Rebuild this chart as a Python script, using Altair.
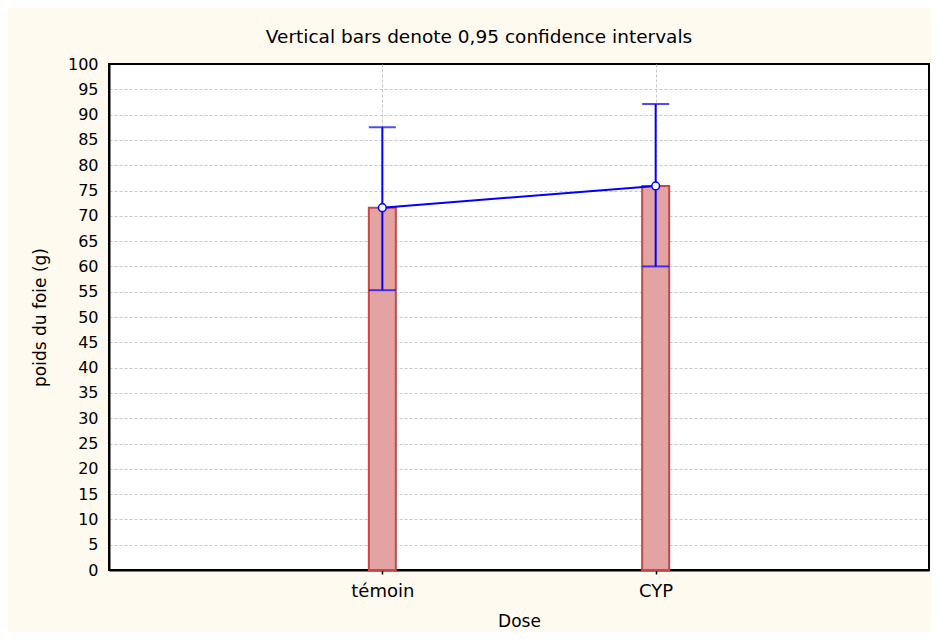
import altair as alt
import pandas as pd

doses = ["témoin", "CYP"]
means = [71.6, 75.9]
lower = [55.3, 60.0]
upper = [87.5, 92.1]
y_ticks = list(range(0, 101, 5))

df = pd.DataFrame({"Dose": doses, "mean": means, "lo": lower, "hi": upper})

FONT = "DejaVu Sans"
BLUE = "#0000FF"

x_axis = alt.Axis(
    title="Dose",
    labelAngle=0,
    labelFont=FONT,
    labelFontSize=18,
    labelColor="black",
    labelPadding=8,
    tickSize=4,
    tickColor="black",
    tickWidth=1.5,
    domain=True,
    domainColor="black",
    domainWidth=2,
    grid=True,
    gridColor="#C8C8C8",
    gridDash=[3, 2],
    titleFont=FONT,
    titleFontSize=17,
    titleFontWeight="normal",
    titleColor="black",
    titleX=410,
    titleY=56,
    titleBaseline="alphabetic",
    titleAlign="center",
)
x_scale = alt.Scale(type="point", padding=1)

y_scale = alt.Scale(domain=[0, 100], nice=False, zero=True)
y_axis = alt.Axis(
    title="poids du foie (g)",
    values=y_ticks,
    format="d",
    labelOverlap=False,
    labelFont=FONT,
    labelFontSize=16,
    labelColor="black",
    labelPadding=11,
    ticks=False,
    domain=True,
    domainColor="black",
    domainWidth=2,
    grid=True,
    gridColor="#C8C8C8",
    gridDash=[3, 2],
    gridOpacity={"condition": {"test": "datum.value === 0 || datum.value === 100", "value": 0}, "value": 1},
    titleFont=FONT,
    titleFontSize=17,
    titleFontWeight="normal",
    titleColor="black",
    titleX=-69,
    titleY=253,
    titleAngle=270,
    titleBaseline="middle",
    titleAlign="center",
)


def X():
    return alt.X("Dose:N", sort=doses, scale=x_scale, axis=x_axis)


def Y(field):
    return alt.Y(field, type="quantitative", scale=y_scale, axis=y_axis)


base = alt.Chart(df)

bars = base.mark_bar(
    size=27, fill="#E3A3A3", stroke="#C44848", strokeWidth=2
).encode(x=X(), y=Y("mean"))

err = base.mark_rule(color=BLUE, strokeWidth=2).encode(
    x=X(), y=Y("lo"), y2="hi:Q"
)

line = base.mark_line(color=BLUE, strokeWidth=2).encode(x=X(), y=Y("mean"))

cap_lo = base.mark_tick(color=BLUE, size=27, thickness=2).encode(x=X(), y=Y("lo"))
cap_hi = base.mark_tick(color=BLUE, size=27, thickness=2).encode(x=X(), y=Y("hi"))

pts = base.mark_point(
    shape="circle", size=60, filled=True, fill="white", stroke=BLUE, strokeWidth=1.5, opacity=1
).encode(x=X(), y=Y("mean"))

chart = (
    alt.layer(bars, err, line, cap_lo, cap_hi, pts)
    .properties(
        width=820,
        height=506,
        title=alt.TitleParams(
            "Vertical bars denote 0,95 confidence intervals",
            font=FONT,
            fontSize=18.5,
            fontWeight="normal",
            color="black",
            anchor="middle",
            dx=-40,
            dy=27,
            offset=22,
            baseline="alphabetic",
        ),
        autosize=alt.AutoSizeParams(type="none"),
        padding={"left": 101, "top": 56, "right": 2, "bottom": 62},
        background="#FFFAF0",
    )
    .configure_view(fill="white", stroke="black", strokeWidth=2)
)

chart.save("out.html", embed_options={"renderer": "svg", "actions": False})
